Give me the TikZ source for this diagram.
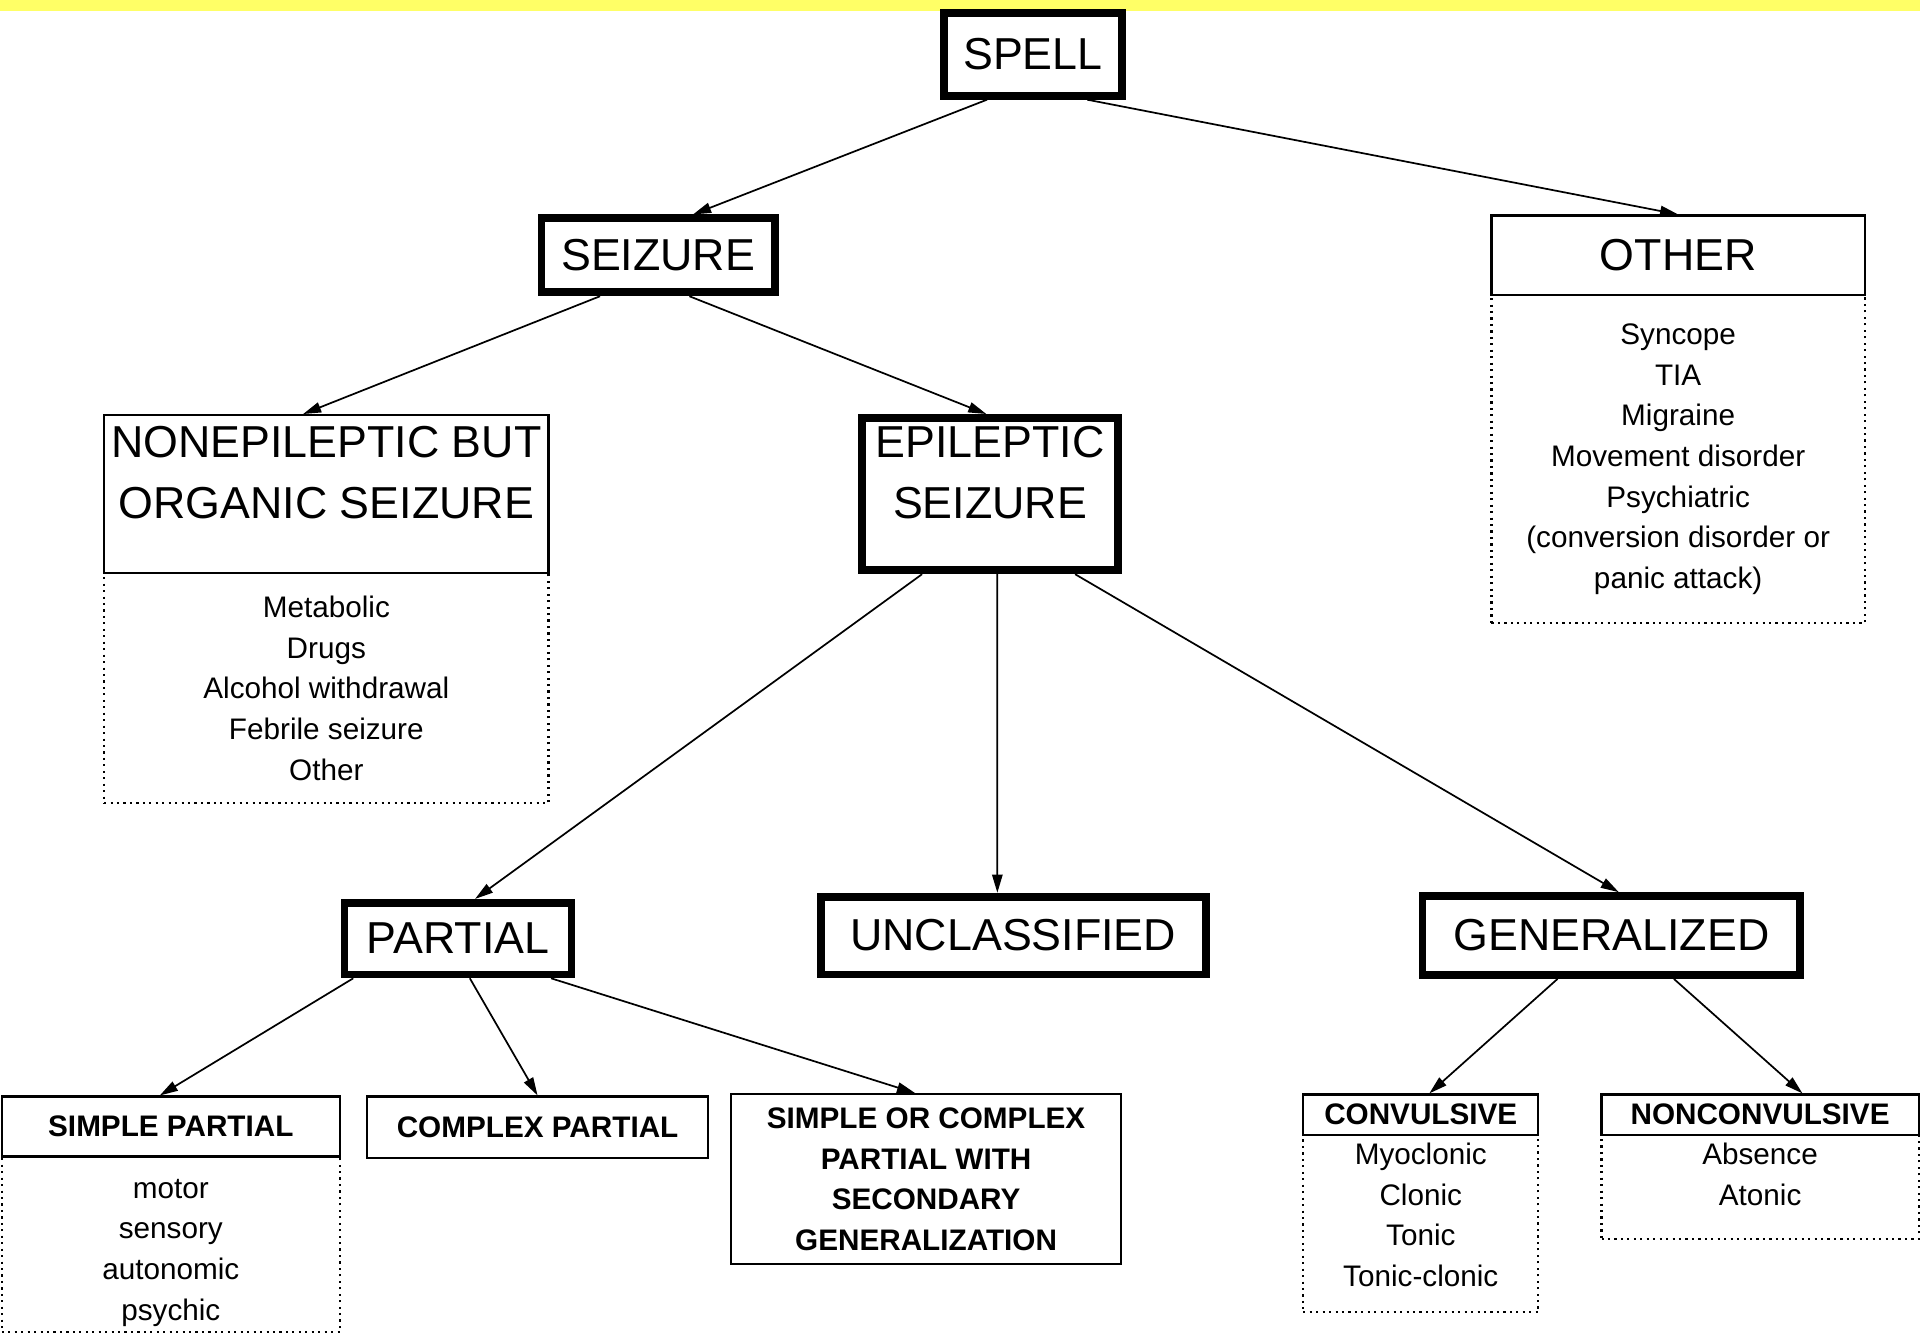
\documentclass[tikz,border=0pt]{standalone}
\usepackage{fontspec}
\setmainfont{Liberation Sans}
\usetikzlibrary{arrows.meta}
\definecolor{bandyellow}{RGB}{255,255,102}

\begin{document}
\begin{tikzpicture}[x=0.1mm,y=-0.1mm,
	bigtxt/.style={font=\fontsize{10.4}{14.2}\selectfont,align=center},
	smalltxt/.style={font=\fontsize{6.9}{9.45}\selectfont,align=center},
	boldtxt/.style={font=\fontsize{6.9}{9.45}\selectfont\bfseries,align=center},
	bigbox/.style={draw,line width=1.8pt,inner sep=0pt,bigtxt},
	headbox/.style={draw,line width=0.5pt,inner sep=0pt},
	listbox/.style={draw,densely dotted,line width=0.5pt,inner sep=0pt,smalltxt},
	arr/.style={-{Triangle[length=4.2pt,width=2.4pt]},thin}]
	\useasboundingbox (0,0) rectangle (1568,1089);
	\fill [bandyellow] (0,0) rectangle (1568,9);
	% top levels
	\node [bigbox,minimum width=14.55mm,minimum height=6.75mm] (spell) at (843.5,44.5) {SPELL};
	\node [bigbox,minimum width=19.05mm,minimum height=6.05mm] (seizure) at (537.5,208.5) {SEIZURE};
	\node [headbox,bigtxt,minimum width=30.5mm,minimum height=6.5mm] (other) at (1370.5,208.5) {OTHER};
	\node [listbox,minimum width=30.5mm,minimum height=26.8mm] (otherlist) at (1370.5,375) {Syncope\\TIA\\Migraine\\Movement disorder\\Psychiatric\\(conversion disorder or\\panic attack)};
	\node [headbox,minimum width=36.3mm,minimum height=12.9mm] (nonep) at (266.5,403.5) {};
	\node [bigtxt] (noneptext) at (266.5,386) {NONEPILEPTIC BUT\\ORGANIC SEIZURE};
	\node [listbox,minimum width=36.3mm,minimum height=18.8mm] (noneplist) at (266.5,562) {Metabolic\\Drugs\\Alcohol withdrawal\\Febrile seizure\\Other};
	\node [bigbox,minimum width=20.85mm,minimum height=12.45mm] (epil) at (808.5,403.5) {};
	\node [bigtxt] (epiltext) at (808.5,386) {EPILEPTIC\\SEIZURE};
	% seizure types
	\node [bigbox,minimum width=18.55mm,minimum height=5.85mm] (partial) at (374,766.5) {PARTIAL};
	\node [bigbox,minimum width=31.45mm,minimum height=6.35mm] (unclass) at (827.5,764) {UNCLASSIFIED};
	\node [bigbox,minimum width=30.85mm,minimum height=6.45mm] (general) at (1316,764) {GENERALIZED};
	% bottom row
	\node [headbox,boldtxt,minimum width=27.6mm,minimum height=4.9mm] (simple) at (139.5,920) {SIMPLE PARTIAL};
	\node [listbox,minimum width=27.6mm,minimum height=14.3mm] (simplelist) at (139.5,1016.5) {};
	\node [smalltxt] (simpletext) at (139.5,1023) {motor\\sensory\\autonomic\\psychic};
	\node [headbox,boldtxt,minimum width=27.8mm,minimum height=5.0mm] (complex) at (439,920.5) {COMPLEX PARTIAL};
	\node [headbox,boldtxt,minimum width=31.8mm,minimum height=13.9mm] (secgen) at (756.3,963) {SIMPLE OR COMPLEX\\PARTIAL WITH\\SECONDARY\\GENERALIZATION};
	\node [headbox,boldtxt,minimum width=19.2mm,minimum height=3.3mm] (conv) at (1160.3,910.3) {CONVULSIVE};
	\node [listbox,minimum width=19.2mm,minimum height=14.48mm] (convlist) at (1160.3,999.3) {};
	\node [smalltxt] (convtext) at (1160.3,992) {Myoclonic\\Clonic\\Tonic\\Tonic-clonic};
	\node [headbox,boldtxt,minimum width=25.9mm,minimum height=3.3mm] (nonconv) at (1437.4,910.3) {NONCONVULSIVE};
	\node [listbox,minimum width=25.9mm,minimum height=8.5mm] (nonconvlist) at (1437.4,969.4) {};
	\node [smalltxt] (nonconvtext) at (1437.4,959) {Absence\\Atonic};
	% connectors
	\draw [arr] ([xshift=-3.75mm]spell.south) -- ([xshift=2.85mm]seizure.north);
	\draw [arr] ([xshift=4.45mm]spell.south) -- (other.north);
	\draw [arr] ([xshift=-4.75mm]seizure.south) -- ([xshift=-1.9mm]nonep.north);
	\draw [arr] ([xshift=2.55mm]seizure.south) -- ([xshift=-0.3mm]epil.north);
	\draw [arr] ([xshift=-5.55mm]epil.south) -- ([xshift=1.4mm]partial.north);
	\draw [arr] ([xshift=0.6mm]epil.south) -- ([xshift=-1.3mm]unclass.north);
	\draw [arr] ([xshift=6.95mm]epil.south) -- ([xshift=0.6mm]general.north);
	\draw [arr] ([xshift=-8.55mm]partial.south) -- ([xshift=-0.9mm]simple.north);
	\draw [arr] ([xshift=0.97mm]partial.south) -- (complex.north);
	\draw [arr] ([xshift=7.6mm]partial.south) -- ([xshift=-0.9mm]secgen.north);
	\draw [arr] ([xshift=-4.4mm]general.south) -- ([xshift=0.7mm]conv.north);
	\draw [arr] ([xshift=5.1mm]general.south) -- ([xshift=3.46mm]nonconv.north);
\end{tikzpicture}
\end{document}
